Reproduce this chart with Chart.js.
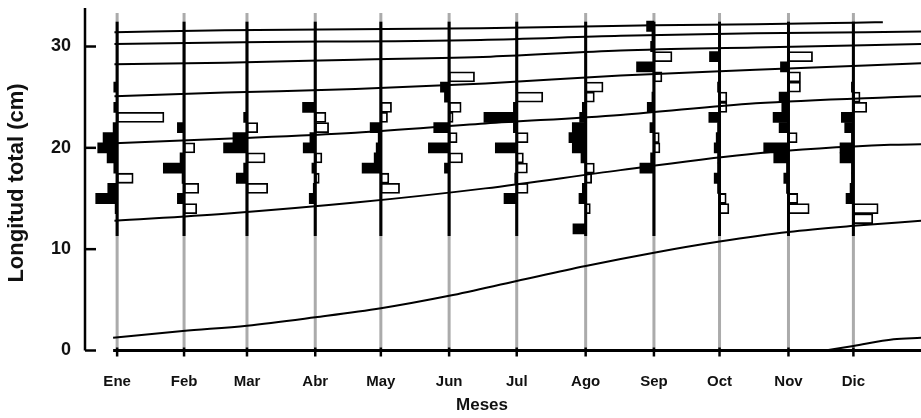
<!DOCTYPE html>
<html>
<head>
<meta charset="utf-8">
<script src="https://cdn.jsdelivr.net/npm/chart.js@4.4.1/dist/chart.umd.min.js"></script>
<style>
  html, body { margin: 0; padding: 0; background: #fff; }
  #wrap { width: 921px; height: 418px; position: relative; }
</style>
</head>
<body>
<div id="wrap"><canvas id="lfChart"></canvas></div>
<script>
// months and where each sample sits on the time axis (in months from Ene)
const months = ['Ene', 'Feb', 'Mar', 'Abr', 'May', 'Jun', 'Jul', 'Ago', 'Sep', 'Oct', 'Nov', 'Dic'];
const monthPos = [0, 1.0, 1.94, 2.96, 3.94, 4.96, 5.97, 7.0, 8.02, 9.0, 10.03, 11.0];
const yTicks = [0, 10, 20, 30];

// length classes (cm), 12 .. 32
const lengthClasses = [12, 13, 14, 15, 16, 17, 18, 19, 20, 21, 22, 23, 24, 25, 26, 27, 28, 29, 30, 31, 32];

// restructured frequencies per month (positive = peak, black; negative = trough, white)
const ene = [0, 0, 3, 32, 14, -24, 5, 15, 29, 21, 6, -70, 5, 0, 5, 0, 0, 0, 0, 0, 0];
const feb = [0, 0, -19, 10, -22, 3, 31, 6, -16, 0, 10, 0, 0, 0, 0, 0, 0, 0, 0, 0, 0];
const mar = [0, 0, 0, 0, -31, 16, 5, -27, 35, 21, -16, 5, 0, 0, 0, 0, 0, 0, 0, 0, 0];
const abr = [0, 0, 0, 9, 3, -6, 5, -10, 18, 8, -20, -16, 19, 0, 0, 0, 0, 0, 0, 0, 0];
const may = [0, 0, 0, 0, -28, -12, 28, 10, 7, 4, 16, -10, -16, 0, 0, 0, 0, 0, 0, 0, 0];
const jun = [0, 0, 0, 0, 0, 0, 7, -20, 31, -12, 23, -6, -18, 7, 13, -38, 0, 0, 0, 0, 0];
const jul = [0, 0, 0, 19, -17, 3, -16, -10, 32, -17, 5, 49, 5, -39, 0, 0, 0, 0, 0, 0, 0];
const ago = [19, 0, -7, 10, 5, -9, -13, 7, 20, 25, 20, 9, 5, -13, -26, 0, 0, 0, 0, 0, 0];
const sep = [0, 0, 0, 0, 0, 0, 21, 5, -9, -8, 6, 0, 10, 3, 0, -12, 26, -27, 5, 3, 11];
const oct = [0, 0, -14, -10, 3, 8, 3, 3, 8, 5, 3, 16, -11, -11, 3, 0, 0, 15, 0, 0, 0];
const nov = [0, 0, -31, -14, 3, 7, 3, 22, 37, -13, 14, 23, 10, 14, -18, -18, 12, -36, 0, 0, 0];
const dic = [0, -29, -37, 11, 5, 3, 3, 20, 20, 3, 13, 18, -20, -10, 3, 0, 0, 0, 0, 0, 0];

// growth curves, [month, length cm]
const cohortA = [[-0.04, 31.4], [1.61, 31.6], [5.43, 31.8], [8.02, 32.1], [9.54, 32.2], [11.0, 32.35], [11.44, 32.4]];
const cohortB = [[-0.04, 30.25], [1.61, 30.4], [5.43, 30.65], [7.52, 31.05], [9.54, 31.3], [12.01, 31.47]];
const cohortC = [[-0.04, 28.25], [1.61, 28.4], [3.56, 28.7], [5.58, 29.0], [7.52, 29.6], [9.54, 29.9], [12.01, 30.25]];
const cohortD = [[-0.04, 25.1], [1.61, 25.45], [3.56, 25.8], [5.5, 26.35], [7.52, 27.15], [9.54, 27.7], [12.01, 28.35]];
const cohortE = [[-0.04, 20.45], [1.61, 20.9], [3.56, 21.5], [5.5, 22.4], [7.52, 23.25], [9.54, 24.4], [11.55, 25.0], [12.01, 25.1]];
const cohortF = [[-0.04, 12.8], [1.61, 13.5], [3.56, 14.6], [5.5, 16.0], [7.52, 17.8], [9.54, 19.45], [11.55, 20.3], [12.01, 20.35]];
const cohortG = [[-0.06, 1.26], [0.98, 1.93], [1.94, 2.45], [2.96, 3.28], [3.94, 4.17], [4.96, 5.4], [5.97, 6.86], [7.0, 8.34], [8.02, 9.65], [9.0, 10.75], [10.03, 11.7], [11.0, 12.3], [12.01, 12.8]];
const cohortH = [[10.58, 0], [11.0, 0.45], [11.6, 1.1], [12.01, 1.26]];

const scoresByMonth = [ene, feb, mar, abr, may, jun, jul, ago, sep, oct, nov, dic];
const cohorts = [cohortA, cohortB, cohortC, cohortD, cohortE, cohortF, cohortG, cohortH];

const FONT = '"Liberation Sans", Arial, sans-serif';

// score 100 = one month of width on the time axis
const peaks = [];
const troughs = [];
scoresByMonth.forEach((scores, i) => {
    const m = monthPos[i];
    scores.forEach((s, j) => {
        if (s > 0) peaks.push({ x: [m - s / 100, m], y: lengthClasses[j] });
        else if (s < 0) troughs.push({ x: [m, m - s / 100], y: lengthClasses[j] });
    });
});

const frame = {
    id: 'frame',
    beforeDatasetsDraw(chart) {
        const { ctx, scales: { x, y } } = chart;
        ctx.save();
        ctx.strokeStyle = '#ababab';
        ctx.lineWidth = 3;
        monthPos.forEach(m => {
            const px = x.getPixelForValue(m);
            ctx.beginPath();
            ctx.moveTo(px, y.getPixelForValue(0));
            ctx.lineTo(px, y.getPixelForValue(33.3));
            ctx.stroke();
        });
        ctx.restore();
    },
    afterDatasetsDraw(chart) {
        const { ctx, scales: { x, y } } = chart;
        ctx.save();
        ctx.strokeStyle = '#000';
        ctx.lineWidth = 3;
        monthPos.forEach(m => {
            const px = x.getPixelForValue(m);
            ctx.beginPath();
            ctx.moveTo(px, y.getPixelForValue(11.3));
            ctx.lineTo(px, y.getPixelForValue(32.45));
            ctx.stroke();
        });
        ctx.restore();
    },
    afterDraw(chart) {
        const { ctx, chartArea, scales: { x, y } } = chart;
        const left = chartArea.left;
        const base = y.getPixelForValue(0);
        ctx.save();
        ctx.strokeStyle = '#000';
        ctx.lineWidth = 2.5;
        // y axis with inward ticks
        ctx.beginPath();
        ctx.moveTo(left, chartArea.top);
        ctx.lineTo(left, base);
        ctx.stroke();
        yTicks.forEach(v => {
            const py = y.getPixelForValue(v);
            ctx.beginPath();
            ctx.moveTo(left, py);
            ctx.lineTo(left + 11, py);
            ctx.stroke();
        });
        // x axis starting at the first sample
        ctx.lineWidth = 3;
        ctx.beginPath();
        ctx.moveTo(x.getPixelForValue(-0.06), base);
        ctx.lineTo(chartArea.right, base);
        ctx.stroke();
        ctx.lineWidth = 2.5;
        monthPos.forEach(m => {
            const px = x.getPixelForValue(m);
            ctx.beginPath();
            ctx.moveTo(px, base - 3);
            ctx.lineTo(px, base + 6);
            ctx.stroke();
        });
        // axis titles
        ctx.fillStyle = '#111';
        ctx.textAlign = 'center';
        ctx.textBaseline = 'middle';
        ctx.font = 'bold 17px ' + FONT;
        ctx.fillText('Meses', 482, 405);
        ctx.translate(17, 183);
        ctx.rotate(-Math.PI / 2);
        ctx.font = 'bold 22px ' + FONT;
        ctx.fillText('Longitud total (cm)', 0, 0);
        ctx.restore();
    }
};

const barCommon = {
    type: 'bar',
    indexAxis: 'y',
    grouped: false,
    barPercentage: 1,
    categoryPercentage: 1,
    borderSkipped: false,
    order: 3
};

const datasets = [
    Object.assign({}, barCommon, { data: peaks, backgroundColor: '#000', borderColor: '#000', borderWidth: 0 }),
    Object.assign({}, barCommon, { data: troughs, backgroundColor: '#fff', borderColor: '#000', borderWidth: 1.8 })
];
cohorts.forEach(c => {
    datasets.push({
        type: 'line',
        data: c.map(p => ({ x: p[0], y: p[1] })),
        borderColor: '#000',
        borderWidth: 2,
        pointRadius: 0,
        fill: false,
        cubicInterpolationMode: 'monotone',
        order: 1
    });
});

new Chart(document.getElementById('lfChart'), {
    type: 'line',
    data: { datasets: datasets },
    options: {
        responsive: true,
        maintainAspectRatio: false,
        animation: false,
        layout: { padding: { top: 8, right: 0, bottom: 0, left: 0 } },
        plugins: { legend: { display: false }, tooltip: { enabled: false } },
        scales: {
            x: {
                type: 'linear',
                offset: false,
                min: -0.48,
                max: 12.01,
                grid: { display: false },
                border: { display: false },
                afterBuildTicks: scale => { scale.ticks = monthPos.map(v => ({ value: v })); },
                afterFit: scale => { scale.height = 67.5; scale.paddingLeft = 0; scale.paddingRight = 0; },
                ticks: {
                    autoSkip: false,
                    maxRotation: 0,
                    padding: 14,
                    color: '#111',
                    font: { family: FONT, size: 15, weight: 'bold' },
                    callback: (v, i) => months[i]
                }
            },
            y: {
                type: 'linear',
                offset: false,
                min: 0,
                max: 33.8,
                grid: { display: false },
                border: { display: false },
                afterBuildTicks: scale => { scale.ticks = yTicks.map(v => ({ value: v })); },
                afterFit: scale => { scale.width = 85; scale.paddingTop = 0; scale.paddingBottom = 0; },
                ticks: {
                    padding: 6,
                    color: '#111',
                    font: { family: FONT, size: 18, weight: 'bold' },
                    callback: v => String(v)
                }
            }
        }
    },
    plugins: [frame]
});
</script>
</body>
</html>
